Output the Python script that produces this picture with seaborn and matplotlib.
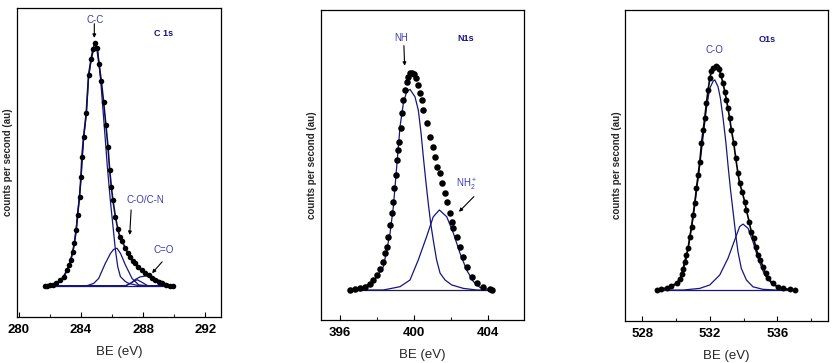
import matplotlib
matplotlib.use("Agg")
import matplotlib.pyplot as plt
from matplotlib.ticker import MultipleLocator, NullLocator
import seaborn as sns
import pandas as pd

sns.set_style("white")
plt.rcParams['font.family'] = ['Liberation Sans', 'DejaVu Sans']
plt.rcParams['mathtext.fontset'] = 'custom'
plt.rcParams['mathtext.rm'] = 'Liberation Sans'

# ---------------- C 1s ----------------
c1s_be = [281.7, 281.81, 282.0, 282.2, 282.4, 282.67, 282.88, 283.10, 283.25, 283.35,
          283.48, 283.57, 283.70, 283.78, 283.91, 284.0, 284.06, 284.17, 284.34, 284.49,
          284.65, 284.77, 284.88, 285.03, 285.16, 285.31, 285.46, 285.61, 285.74, 285.85,
          285.96, 286.05, 286.22, 286.37, 286.50, 286.65, 286.86, 287.0, 287.18, 287.35,
          287.51, 287.7, 287.94, 288.15, 288.37, 288.6, 288.8, 289.0, 289.23, 289.5,
          289.76, 289.9]
c1s_cps = [10.05, 10.1, 10.2, 10.4, 10.8, 11.9, 13.0, 15.1, 16.8, 18.5,
           21.1, 23.8, 28.1, 33.0, 38.9, 45.4, 51.9, 58.4, 65.9, 78.4,
           83.5, 86.7, 88.6, 87.0, 82.0, 76.5, 69.5, 62.0, 55.1, 47.5,
           42.0, 38.0, 32.4, 28.5, 26.0, 24.5, 22.2, 20.8, 19.5, 18.2,
           17.3, 16.0, 15.1, 14.2, 13.5, 12.6, 11.9, 11.3, 10.8, 10.4,
           10.1, 10.05]
cc_be = [281.7, 282.4, 282.88, 283.25, 283.57, 283.78, 284.0, 284.17, 284.34, 284.49,
         284.65, 284.8, 284.95, 285.08, 285.25, 285.42, 285.57, 285.70, 285.89, 286.11,
         286.22, 286.37, 286.54, 286.86, 287.08, 287.72, 289.9]
cc_cps = [10.05, 10.6, 12.7, 16.5, 23.5, 32.5, 44.5, 57.8, 65.5, 77.5,
          83.0, 86.3, 87.6, 86.5, 77.8, 67.0, 57.3, 48.6, 37.8, 27.0,
          21.6, 16.2, 13.0, 11.4, 10.8, 10.05, 10.05]
con_be = [281.7, 284.39, 284.82, 285.14, 285.57, 285.9, 286.1, 286.32, 286.55, 286.86,
          287.29, 287.72, 288.3, 289.9]
con_cps = [10.05, 10.05, 10.8, 12.4, 17.3, 20.5, 21.8, 22.2, 20.5, 16.8,
           12.4, 10.3, 10.05, 10.05]
cx_be = [281.7, 286.9, 287.3, 287.62, 287.95, 288.3, 289.9]
cx_cps = [10.05, 10.05, 11.2, 12.0, 11.1, 10.05, 10.05]
cdo_be = [281.7, 286.86, 287.2, 287.51, 287.8, 288.15, 288.5, 288.8, 289.1, 289.44, 289.87]
cdo_cps = [10.05, 10.05, 10.8, 12.1, 12.9, 13.2, 13.0, 12.4, 11.6, 10.8, 10.05]

# ---------------- N 1s ----------------
n1s_be = [396.54, 396.81, 397.08, 397.35, 397.62, 397.81, 397.99, 398.17, 398.31, 398.44,
          398.53, 398.62, 398.71, 398.80, 398.89, 398.94, 399.03, 399.10, 399.16, 399.21,
          399.29, 399.36, 399.43, 399.52, 399.61, 399.70, 399.79, 399.88, 400.01, 400.12,
          400.24, 400.33, 400.42, 400.51, 400.69, 400.87, 401.02, 401.14, 401.27, 401.42,
          401.54, 401.69, 401.78, 401.96, 402.05, 402.14, 402.32, 402.50, 402.68, 402.86,
          403.13, 403.40, 403.76, 404.12, 404.21]
n1s_cps = [9.68, 9.89, 10.2, 10.75, 11.6, 12.9, 14.5, 16.3, 18.8, 21.5,
           23.7, 26.9, 30.6, 34.4, 38.2, 42.5, 46.8, 51.6, 54.8, 57.5,
           61.8, 66.7, 71.0, 74.2, 76.9, 78.5, 79.6, 79.8, 79.4, 78.0,
           75.8, 73.1, 71.0, 67.7, 63.4, 59.1, 55.9, 52.7, 49.5, 47.3,
           44.1, 40.9, 38.2, 34.4, 31.7, 29.6, 26.9, 23.7, 20.4, 17.2,
           14.0, 11.8, 10.75, 9.89, 9.68]
nh_be = [396.54, 397.08, 397.81, 398.35, 398.71, 398.89, 399.07, 399.25, 399.43, 399.61,
         399.79, 400.06, 400.24, 400.39, 400.51, 400.64, 400.78, 400.91, 401.05, 401.23,
         401.42, 401.69, 402.05, 402.68, 403.40, 404.21]
nh_cps = [9.68, 10.2, 12.4, 17.2, 28.0, 36.6, 49.5, 62.4, 69.9, 73.7,
          74.4, 72.0, 67.7, 60.2, 52.7, 45.2, 37.6, 31.2, 25.8, 19.4,
          15.1, 12.9, 11.3, 10.2, 9.68, 9.68]
nh2_be = [396.54, 398.35, 399.25, 399.79, 400.24, 400.69, 401.05, 401.38, 401.78, 402.14,
          402.50, 402.86, 403.22, 403.58, 404.21]
nh2_cps = [9.68, 9.68, 10.75, 12.9, 19.4, 26.9, 33.3, 35.5, 33.3, 28.0,
           21.5, 16.1, 12.4, 10.5, 9.68]

# ---------------- O 1s ----------------
o1s_be = [528.85, 529.14, 529.44, 529.73, 530.03, 530.23, 530.33, 530.42, 530.52, 530.62,
          530.72, 530.82, 530.92, 531.01, 531.11, 531.21, 531.31, 531.41, 531.51, 531.61,
          531.70, 531.80, 531.90, 532.00, 532.10, 532.20, 532.34, 532.45, 532.55, 532.65,
          532.79, 532.89, 532.99, 533.08, 533.18, 533.28, 533.42, 533.54, 533.67, 533.77,
          533.92, 534.07, 534.17, 534.33, 534.46, 534.60, 534.72, 534.86, 535.00, 535.15,
          535.31, 535.45, 535.74, 536.04, 536.33, 536.73, 537.02]
o1s_cps = [9.87, 10.2, 10.6, 11.3, 12.0, 13.4, 14.9, 16.8, 19.0, 21.1,
           23.5, 27.0, 30.3, 34.0, 37.8, 42.6, 46.9, 51.2, 57.1, 61.4,
           65.1, 70.0, 74.2, 78.0, 80.4, 81.4, 82.0, 81.8, 81.0, 79.1,
           76.4, 73.7, 71.0, 68.3, 65.1, 61.4, 57.1, 52.3, 47.4, 44.2,
           41.5, 38.3, 35.6, 31.9, 28.6, 26.5, 23.8, 21.1, 19.5, 17.4,
           15.2, 13.6, 12.0, 10.9, 10.4, 10.1, 9.87]
o_co_be = [528.85, 529.64, 530.23, 530.62, 531.01, 531.41, 531.80, 532.0, 532.2, 532.30,
           532.49, 532.63, 532.79, 532.95, 533.08, 533.22, 533.38, 533.54, 533.67, 533.87,
           534.17, 534.56, 535.15, 535.94, 537.02]
o_co_cps = [9.87, 10.4, 12.6, 20.1, 32.9, 50.1, 68.3, 74.8, 77.1, 77.5,
            75.3, 71.6, 65.1, 57.6, 50.1, 42.6, 35.1, 27.6, 22.2, 16.8,
            13.1, 10.9, 10.1, 9.87, 9.87]
o_b_be = [528.85, 530.42, 531.41, 532.0, 532.59, 533.08, 533.48, 533.77, 533.97, 534.27,
          534.56, 534.86, 535.25, 535.74, 536.33, 537.02]
o_b_cps = [9.87, 9.87, 10.4, 11.5, 14.7, 20.1, 26.0, 30.3, 31.1, 29.7,
           25.4, 20.1, 14.7, 11.5, 10.2, 9.87]

NAVY = '#16167e'
LBLUE = '#3a3ab4'

fig = plt.figure(figsize=(8.34, 3.63), dpi=100)
W, H = 834.0, 363.0
boxes = [(17.3, 8.3, 220.7, 316.7), (321.0, 10.0, 524.3, 320.0), (625.0, 10.0, 828.3, 320.7)]
axes = []
for (x0, y0, x1, y1) in boxes:
    ax = fig.add_axes([x0 / W, (H - y1) / H, (x1 - x0) / W, (y1 - y0) / H])
    axes.append(ax)

xlims = [(279.9, 293.0), (394.97, 405.98), (526.98, 539.02)]
majors = [[280, 284, 288, 292], [396, 400, 404], [528, 532, 536]]


def curve(ax, xs, ys, color=NAVY, lw=0.9, z=2):
    sns.lineplot(x=xs, y=ys, ax=ax, color=color, lw=lw, sort=False,
                 estimator=None, zorder=z, legend=False)


def dots(ax, xs, ys, s=14):
    sns.scatterplot(x=xs, y=ys, ax=ax, color='black', s=s, linewidth=0,
                    zorder=4, legend=False)


# panel 1
a = axes[0]
curve(a, [c1s_be[0], c1s_be[-1]], [c1s_cps[0], c1s_cps[-1]])
curve(a, cc_be, cc_cps)
curve(a, con_be, con_cps)
curve(a, cx_be, cx_cps)
curve(a, cdo_be, cdo_cps)
curve(a, c1s_be, c1s_cps, color='#0c0c50', lw=1.2, z=3)
dots(a, c1s_be, c1s_cps, s=16)

# panel 2
a = axes[1]
curve(a, [n1s_be[0], n1s_be[-1]], [n1s_cps[0], n1s_cps[-1]], color='#202040')
curve(a, nh_be, nh_cps)
curve(a, nh2_be, nh2_cps)
dots(a, n1s_be, n1s_cps, s=22)

# panel 3
a = axes[2]
curve(a, [o1s_be[0], o1s_be[-1]], [o1s_cps[0], o1s_cps[-1]])
curve(a, o_co_be, o_co_cps)
curve(a, o_b_be, o_b_cps)
curve(a, o1s_be, o1s_cps, color='black', lw=1.2, z=3)
dots(a, o1s_be, o1s_cps, s=18)

label_x = [-0.044, -0.044, -0.040]
for i, ax in enumerate(axes):
    ax.set_xlim(*xlims[i])
    ax.set_ylim(0, 100)
    ax.set_xticks(majors[i])
    ax.xaxis.set_minor_locator(MultipleLocator(2))
    ax.yaxis.set_major_locator(NullLocator())
    ax.tick_params(axis='x', which='major', direction='in', length=3.5, width=0.8,
                   labelsize=9.5, pad=5, colors='black', bottom=True)
    ax.tick_params(axis='x', which='minor', direction='in', length=2, width=0.8, bottom=True)
    for lab in ax.get_xticklabels():
        lab.set_fontweight('bold')
    for sp in ax.spines.values():
        sp.set_color('black')
        sp.set_linewidth(0.9)
    ax.set_xlabel('BE (eV)', fontsize=9.5)
    ax.xaxis.set_label_coords(0.5, -0.095)
    ax.xaxis.label.set_va('top')
    ax.set_ylabel('counts per second (au)', fontsize=7, fontweight='bold')
    ax.yaxis.set_label_coords(label_x[i], 0.5)
    ax.yaxis.label.set_va('center')
    ax.set_facecolor('white')

arrow = dict(arrowstyle='-|>', color='black', lw=0.8, mutation_scale=5, shrinkA=0, shrinkB=0)

a = axes[0]
a.text(284.92, 96.2, 'C-C', color=LBLUE, fontsize=7, ha='center', va='center')
a.annotate('', xy=(284.86, 90.4), xytext=(284.86, 95.0), arrowprops=arrow)
a.text(289.33, 91.9, 'C 1s', color=NAVY, fontsize=6.5, fontweight='bold', ha='center', va='center')
a.text(288.15, 37.8, 'C-O/C-N', color=LBLUE, fontsize=7, ha='center', va='center')
a.annotate('', xy=(287.14, 26.5), xytext=(287.23, 34.6), arrowprops=arrow)
a.text(289.33, 21.6, 'C=O', color=LBLUE, fontsize=7, ha='center', va='center')
a.annotate('', xy=(288.58, 14.1), xytext=(289.23, 17.8), arrowprops=arrow)

a = axes[1]
a.text(399.32, 91.05, 'NH', color=LBLUE, fontsize=7, ha='center', va='center')
a.annotate('', xy=(399.50, 82.0), xytext=(399.46, 88.5), arrowprops=arrow)
a.text(402.8, 90.9, 'N1s', color=NAVY, fontsize=6.5, fontweight='bold', ha='center', va='center')
a.text(402.85, 43.5, r'NH$_2^+$', color=LBLUE, fontsize=7, ha='center', va='center')
a.annotate('', xy=(402.44, 34.9), xytext=(403.25, 39.8), arrowprops=arrow)

a = axes[2]
a.text(532.3, 87.0, 'C-O', color=LBLUE, fontsize=7, ha='center', va='center')
a.text(535.41, 90.6, 'O1s', color=NAVY, fontsize=6.5, fontweight='bold', ha='center', va='center')

fig.savefig('out.png', dpi=100, facecolor='white')
